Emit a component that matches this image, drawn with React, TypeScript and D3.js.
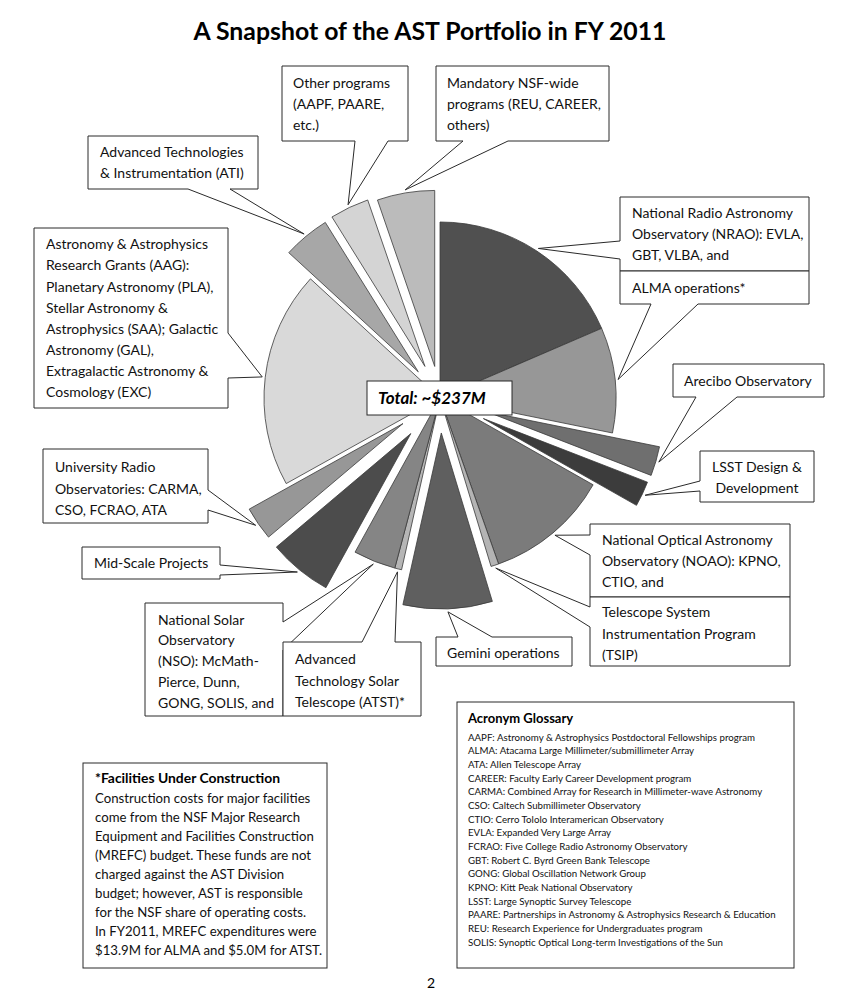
import React from 'react';
import * as d3 from 'd3';

// FY2011 AST portfolio, $M
const categories = [
  'NRAO', 'ALMA operations', 'Arecibo', 'LSST', 'NOAO', 'TSIP', 'Gemini', 'ATST',
  'NSO', 'Mid-Scale', 'University Radio', 'AAG', 'ATI', 'Other programs', 'Mandatory',
];
const valuesM = [43.9, 22.9, 6.4, 5.5, 27.0, 1.7, 19.4, 1.5, 9.2, 13.8, 7.3, 47.2, 10.2, 8.5, 12.5];

const labelLines = [
  ['National Radio Astronomy', 'Observatory (NRAO): EVLA,', 'GBT, VLBA, and'],
  ['ALMA operations*'],
  ['Arecibo Observatory'],
  ['LSST Design &', 'Development'],
  ['National Optical Astronomy', 'Observatory (NOAO): KPNO,', 'CTIO, and'],
  ['Telescope System', 'Instrumentation Program', '(TSIP)'],
  ['Gemini operations'],
  ['Advanced', 'Technology Solar', 'Telescope (ATST)*'],
  ['National Solar', 'Observatory', '(NSO): McMath-', 'Pierce, Dunn,', 'GONG, SOLIS, and'],
  ['Mid-Scale Projects'],
  ['University Radio', 'Observatories: CARMA,', 'CSO, FCRAO, ATA'],
  ['Astronomy & Astrophysics', 'Research Grants (AAG):', 'Planetary Astronomy (PLA),', 'Stellar Astronomy &',
    'Astrophysics (SAA); Galactic', 'Astronomy (GAL),', 'Extragalactic Astronomy &', 'Cosmology (EXC)'],
  ['Advanced Technologies', '& Instrumentation (ATI)'],
  ['Other programs', '(AAPF, PAARE,', 'etc.)'],
  ['Mandatory NSF-wide', 'programs (REU, CAREER,', 'others)'],
];

const glossary = [
  'AAPF: Astronomy & Astrophysics Postdoctoral Fellowships program',
  'ALMA: Atacama Large Millimeter/submillimeter Array',
  'ATA: Allen Telescope Array',
  'CAREER: Faculty Early Career Development program',
  'CARMA: Combined Array for Research in Millimeter-wave Astronomy',
  'CSO: Caltech Submillimeter Observatory',
  'CTIO: Cerro Tololo Interamerican Observatory',
  'EVLA: Expanded Very Large Array',
  'FCRAO: Five College Radio Astronomy Observatory',
  'GBT: Robert C. Byrd Green Bank Telescope',
  'GONG: Global Oscillation Network Group',
  'KPNO: Kitt Peak National Observatory',
  'LSST: Large Synoptic Survey Telescope',
  'PAARE: Partnerships in Astronomy & Astrophysics Research & Education',
  'REU: Research Experience for Undergraduates program',
  'SOLIS: Synoptic Optical Long-term Investigations of the Sun',
];

const facilitiesLines = [
  'Construction costs for major facilities',
  'come from the NSF Major Research',
  'Equipment and Facilities Construction',
  '(MREFC) budget. These funds are not',
  'charged against the AST Division',
  'budget; however, AST is responsible',
  'for the NSF share of operating costs.',
  'In FY2011, MREFC expenditures were',
  '$13.9M for ALMA and $5.0M for ATST.',
];

// styling / layout
const shades = ['#505050', '#979797', '#6f6f6f', '#3c3c3c', '#7b7b7b', '#b4b4b4', '#5f5f5f', '#b6b6b6',
  '#858585', '#4c4c4c', '#979797', '#d9d9d9', '#a7a7a7', '#d4d4d4', '#bbbbbb'];
const explodePx = [0, 0, 49, 48, 0, 0, 35, 0, 0, 46, 45, 0, 34, 35, 32];

const W = 844, H = 994;
const cx = 440, cy = 398, R = 176;
const FONT = 'Lato, "Open Sans", sans-serif';

type Side = 'top' | 'right' | 'bottom' | 'left';
type Callout = { box: [number, number, number, number]; side: Side; base: [number, number];
  tx: number; ty: number; lh: number; anchor?: 'start' | 'middle' };

// box [x0,y0,x1,y1], wedge base on one side, first-line centre ty
const callouts: Callout[] = [
  { box: [620, 197, 809, 271], side: 'left', base: [241, 259], tx: 632, ty: 213.3, lh: 20.9 },
  { box: [620, 271, 809, 304], side: 'bottom', base: [651, 698], tx: 632, ty: 287.7, lh: 21 },
  { box: [673, 364, 824, 397], side: 'bottom', base: [696, 737], tx: 684, ty: 380.7, lh: 21 },
  { box: [700, 451, 814, 502], side: 'left', base: [481, 491], tx: 757, ty: 467.3, lh: 21, anchor: 'middle' },
  { box: [590, 524, 790, 597], side: 'left', base: [535, 555], tx: 602, ty: 540, lh: 21 },
  { box: [590, 597, 790, 666], side: 'left', base: [607, 627], tx: 602, ty: 612, lh: 21.5 },
  { box: [436, 637, 572, 666], side: 'top', base: [458, 492], tx: 447, ty: 653.3, lh: 21 },
  { box: [283, 642, 421, 716], side: 'top', base: [362, 395], tx: 295, ty: 659, lh: 21.5 },
  { box: [145, 603, 283, 716], side: 'right', base: [622, 650], tx: 158, ty: 619.5, lh: 20.9 },
  { box: [82, 547, 220, 579], side: 'right', base: [565, 575], tx: 94, ty: 563.3, lh: 21 },
  { box: [43, 449, 208, 523], side: 'right', base: [490, 510], tx: 55, ty: 467.3, lh: 21.2 },
  { box: [34, 228, 228, 408], side: 'right', base: [333, 378], tx: 46, ty: 244.3, lh: 21.1 },
  { box: [88, 136, 258, 189], side: 'bottom', base: [188, 230], tx: 100, ty: 152.3, lh: 21 },
  { box: [282, 66, 408, 141], side: 'bottom', base: [355, 388], tx: 293, ty: 82.5, lh: 21.3 },
  { box: [436, 66, 609, 141], side: 'bottom', base: [463, 508], tx: 447, ty: 82.5, lh: 21.3 },
];

// draw order so overlapping neighbours stack like the original
const drawOrder = [13, 14, 12, 11, 0, 1, 2, 3, 4, 5, 6, 10, 9, 8, 7];

function calloutPath(c: Callout, tip: [number, number]) {
  const [x0, y0, x1, y1] = c.box;
  const [a, b] = c.base;
  const [px, py] = tip;
  switch (c.side) {
    case 'top':
      return `M${x0},${y0}L${a},${y0}L${px},${py}L${b},${y0}L${x1},${y0}L${x1},${y1}L${x0},${y1}Z`;
    case 'right':
      return `M${x0},${y0}L${x1},${y0}L${x1},${a}L${px},${py}L${x1},${b}L${x1},${y1}L${x0},${y1}Z`;
    case 'bottom':
      return `M${x0},${y0}L${x1},${y0}L${x1},${y1}L${b},${y1}L${px},${py}L${a},${y1}L${x0},${y1}Z`;
    default:
      return `M${x0},${y0}L${x1},${y0}L${x1},${y1}L${x0},${y1}L${x0},${b}L${px},${py}L${x0},${a}Z`;
  }
}

export default function App() {
  const slices = d3.pie<number>().sort(null).value((d) => d)(valuesM);
  const arcGen = d3.arc<d3.PieArcDatum<number>>().innerRadius(0).outerRadius(R);
  const total = d3.sum(valuesM);

  const geo = slices.map((s, i) => {
    const mid = (s.startAngle + s.endAngle) / 2;
    const dx = explodePx[i] * Math.sin(mid);
    const dy = -explodePx[i] * Math.cos(mid);
    const tipR = R + 3;
    const tip: [number, number] = [cx + dx + tipR * Math.sin(mid), cy + dy - tipR * Math.cos(mid)];
    return { s, dx, dy, tip };
  });

  return (
    <svg width={W} height={H} style={{ position: 'absolute', left: 0, top: 0, background: '#fff' }}
      fontFamily={FONT}>
      <rect width={W} height={H} fill="#fff" />
      <text x={430} y={40} textAnchor="middle" fontSize={24.8} fontWeight="bold" fill="#000">
        A Snapshot of the AST Portfolio in FY 2011
      </text>

      <g transform={`translate(${cx},${cy})`}>
        {geo.map((g, i) => (
          <path key={categories[i]} d={arcGen(g.s) || ''} transform={`translate(${g.dx},${g.dy})`}
            fill={shades[i]} stroke="#3a3a3a" strokeWidth={0.8} strokeLinejoin="round" />
        ))}
      </g>

      {drawOrder.map((i) => {
        const c = callouts[i];
        return (
          <g key={'c' + i}>
            <path d={calloutPath(c, geo[i].tip)} fill="#fff" stroke="#2a2a2a" strokeWidth={1} />
            {labelLines[i].map((ln, j) => (
              <text key={j} x={c.tx} y={c.ty + j * c.lh} dy="0.36em" fontSize={14}
                textAnchor={c.anchor || 'start'} fill="#111">{ln}</text>
            ))}
          </g>
        );
      })}

      <rect x={367} y={381} width={145} height={34} fill="#fff" stroke="#2a2a2a" strokeWidth={1} />
      <text x={378} y={398} dy="0.36em" fontSize={17} fontWeight="bold" fontStyle="italic" fill="#000">
        {`Total: ~$${d3.format('.0f')(total)}M`}
      </text>

      <rect x={457} y={702} width={337} height={266} fill="#fff" stroke="#2a2a2a" strokeWidth={1} />
      <text x={468} y={718.3} dy="0.36em" fontSize={13} fontWeight="bold" fill="#000">Acronym Glossary</text>
      {glossary.map((g, i) => (
        <text key={g} x={468} y={737.3 + i * 13.65} dy="0.36em" fontSize={9.7} fill="#111">{g}</text>
      ))}

      <rect x={83} y={763} width={244} height={205} fill="#fff" stroke="#2a2a2a" strokeWidth={1} />
      <text x={95} y={778.3} dy="0.36em" fontSize={13.9} fontWeight="bold" fill="#000">
        *Facilities Under Construction
      </text>
      {facilitiesLines.map((t, i) => (
        <text key={i} x={95} y={798.5 + i * 19} dy="0.36em" fontSize={13.2} fill="#111">{t}</text>
      ))}

      <text x={431} y={982.5} dy="0.36em" fontSize={14} textAnchor="middle" fill="#000">2</text>
    </svg>
  );
}
